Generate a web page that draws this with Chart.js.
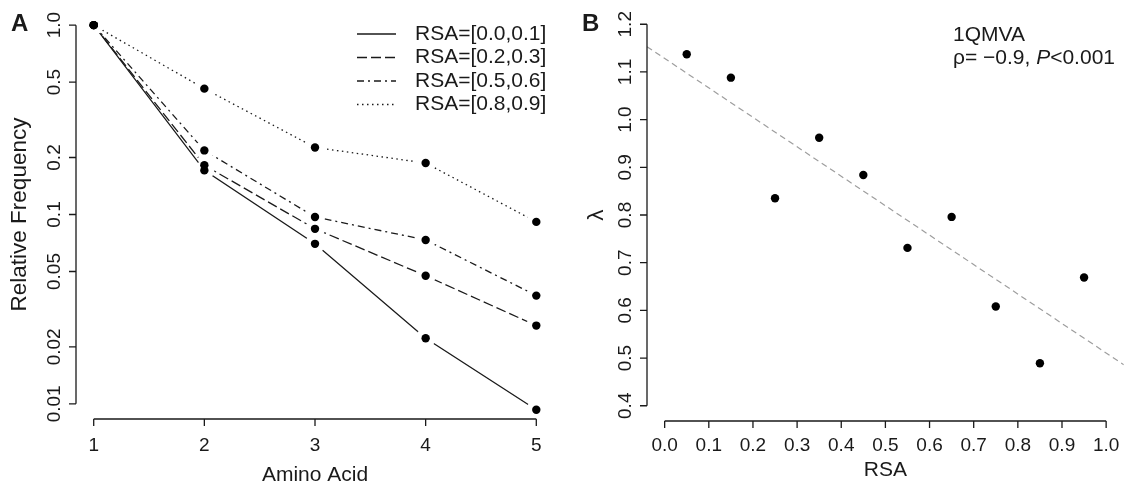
<!DOCTYPE html>
<html>
<head>
<meta charset="utf-8">
<script src="https://cdn.jsdelivr.net/npm/chart.js@4.4.1/dist/chart.umd.min.js"></script>
<style>
  html, body { margin: 0; padding: 0; background: #fff; }
  #wrap { position: relative; width: 1128px; height: 487px; }
  canvas { position: absolute; top: 0; }
  #cA { left: 0; }
  #cB { left: 564px; }
</style>
</head>
<body>
<div id="wrap">
  <canvas id="cA" width="564" height="487"></canvas>
  <canvas id="cB" width="564" height="487"></canvas>
</div>
<script>
// ---------- Panel A data ----------
const aminoAcid = [1, 2, 3, 4, 5];
const seriesNames = ['RSA=[0.0,0.1]', 'RSA=[0.2,0.3]', 'RSA=[0.5,0.6]', 'RSA=[0.8,0.9]'];
const freqRSA01 = [1.0, 0.171, 0.070, 0.0222, 0.0093];
const freqRSA23 = [1.0, 0.182, 0.084, 0.0475, 0.0259];
const freqRSA56 = [1.0, 0.218, 0.097, 0.0734, 0.0373];
const freqRSA89 = [1.0, 0.462, 0.226, 0.187, 0.0914];
const aXTicks = [1, 2, 3, 4, 5];
const aXTickLabels = ['1', '2', '3', '4', '5'];
const aYTicks = [0.01, 0.02, 0.05, 0.1, 0.2, 0.5, 1.0];
const aYTickLabels = ['0.01', '0.02', '0.05', '0.1', '0.2', '0.5', '1.0'];

// ---------- Panel B data ----------
const rsaMid = [0.05, 0.15, 0.25, 0.35, 0.45, 0.55, 0.65, 0.75, 0.85, 0.95];
const lambdaVals = [1.137, 1.088, 0.835, 0.962, 0.884, 0.731, 0.796, 0.608, 0.489, 0.669];
const trendX = [-0.04, 1.04];
const trendY = [1.153, 0.486];
const bXTicks = [0.0, 0.1, 0.2, 0.3, 0.4, 0.5, 0.6, 0.7, 0.8, 0.9, 1.0];
const bXTickLabels = ['0.0', '0.1', '0.2', '0.3', '0.4', '0.5', '0.6', '0.7', '0.8', '0.9', '1.0'];
const bYTicks = [0.4, 0.5, 0.6, 0.7, 0.8, 0.9, 1.0, 1.1, 1.2];
const bYTickLabels = ['0.4', '0.5', '0.6', '0.7', '0.8', '0.9', '1.0', '1.1', '1.2'];

const FONT = '"Liberation Sans", Arial, Helvetica, sans-serif';
const INK = '#1a1a1a';

// R-style axes drawn from the chart's own scales
const rAxes = {
  id: 'rAxes',
  afterDraw(chart, args, o) {
    const ctx = chart.ctx, ca = chart.chartArea;
    const xs = chart.scales.x, ys = chart.scales.y;
    ctx.save();
    ctx.strokeStyle = INK; ctx.fillStyle = INK; ctx.lineWidth = 1.3; ctx.setLineDash([]);
    const tl = 7;
    // x axis
    const xp = o.xTicks.map(v => xs.getPixelForValue(v));
    const yb = ca.bottom;
    ctx.beginPath();
    ctx.moveTo(xp[0], yb); ctx.lineTo(xp[xp.length - 1], yb);
    xp.forEach(p => { ctx.moveTo(p, yb); ctx.lineTo(p, yb + tl); });
    ctx.stroke();
    ctx.font = '19px ' + FONT; ctx.textAlign = 'center'; ctx.textBaseline = 'middle';
    xp.forEach((p, i) => ctx.fillText(o.xLabels[i], p, o.xLabelY));
    // y axis
    const yp = o.yTicks.map(v => ys.getPixelForValue(v));
    const xl = ca.left;
    ctx.beginPath();
    ctx.moveTo(xl, yp[0]); ctx.lineTo(xl, yp[yp.length - 1]);
    yp.forEach(p => { ctx.moveTo(xl, p); ctx.lineTo(xl - tl, p); });
    ctx.stroke();
    yp.forEach((p, i) => {
      ctx.save(); ctx.translate(xl - 21, p); ctx.rotate(-Math.PI / 2);
      ctx.fillText(o.yLabels[i], 0, 0); ctx.restore();
    });
    // titles
    ctx.font = '21px ' + FONT;
    ctx.fillText(o.xTitle, (ca.left + ca.right) / 2, o.xTitleY);
    ctx.font = '22.5px ' + FONT;
    ctx.save(); ctx.translate(o.yTitleX, (ca.top + ca.bottom) / 2); ctx.rotate(-Math.PI / 2);
    ctx.fillText(o.yTitle, 0, 0); ctx.restore();
    // panel letter
    ctx.font = 'bold 24px ' + FONT; ctx.textAlign = 'left'; ctx.textBaseline = 'alphabetic';
    ctx.fillText(o.panel, o.panelX, 31);
    ctx.restore();
  }
};

const legendA = {
  id: 'legendA',
  afterDraw(chart) {
    const ctx = chart.ctx;
    const dashes = chart.data.datasets.slice(0, 4).map(d => d.borderDash);
    ctx.save();
    ctx.strokeStyle = INK; ctx.fillStyle = INK; ctx.lineWidth = 1.3;
    ctx.font = '21px ' + FONT; ctx.textAlign = 'left'; ctx.textBaseline = 'middle';
    seriesNames.forEach((name, i) => {
      const y = 34 + 23.5 * i;
      ctx.setLineDash(dashes[i]);
      ctx.beginPath(); ctx.moveTo(357, y); ctx.lineTo(396, y); ctx.stroke();
      ctx.fillText(name, 415, y);
    });
    ctx.restore();
  }
};

const noteB = {
  id: 'noteB',
  afterDraw(chart) {
    const ctx = chart.ctx;
    ctx.save();
    ctx.fillStyle = INK; ctx.textAlign = 'left'; ctx.textBaseline = 'middle';
    const x0 = 389;
    ctx.font = '21px ' + FONT;
    ctx.fillText('1QMVA', x0, 35);
    let x = x0;
    const part1 = 'ρ= \u22120.9, ';
    ctx.fillText(part1, x, 58); x += ctx.measureText(part1).width;
    ctx.font = 'italic 21px ' + FONT;
    ctx.fillText('P', x, 58); x += ctx.measureText('P').width;
    ctx.font = '21px ' + FONT;
    ctx.fillText('<0.001', x, 58);
    ctx.restore();
  }
};

const toXY = (xs, ys) => xs.map((x, i) => ({ x: x, y: ys[i] }));
const seriesVals = [freqRSA01, freqRSA23, freqRSA56, freqRSA89];
const seriesDash = [[], [10, 4], [7, 4, 2, 4], [1.5, 3.5]];

const lineSets = seriesVals.map((vals, i) => ({
  label: seriesNames[i],
  data: toXY(aminoAcid, vals),
  showLine: true,
  borderColor: INK,
  borderWidth: 1.3,
  borderDash: seriesDash[i],
  pointRadius: 10,
  pointBackgroundColor: '#ffffff',
  pointBorderWidth: 0,
  order: 1
}));
const pointSets = seriesVals.map((vals, i) => ({
  label: seriesNames[i] + ' pts',
  data: toXY(aminoAcid, vals),
  showLine: false,
  pointRadius: 4.2,
  pointBackgroundColor: '#000',
  pointBorderWidth: 0,
  order: 0
}));

const commonOpts = {
  responsive: false,
  animation: false,
  events: [],
  plugins: { legend: { display: false }, tooltip: { enabled: false } }
};

new Chart(document.getElementById('cA'), {
  type: 'scatter',
  data: { datasets: lineSets.concat(pointSets) },
  options: Object.assign({}, commonOpts, {
    layout: { padding: { left: 76, right: 5, top: 8, bottom: 68 } },
    scales: {
      x: { type: 'linear', display: false, bounds: 'data', min: 0.84, max: 5.16 },
      y: { type: 'logarithmic', display: false, bounds: 'data', min: Math.pow(10, -2.08), max: Math.pow(10, 0.08) }
    },
    plugins: Object.assign({}, commonOpts.plugins, {
      rAxes: {
        xTicks: aXTicks, xLabels: aXTickLabels, xLabelY: 446,
        yTicks: aYTicks, yLabels: aYTickLabels,
        xTitle: 'Amino Acid', xTitleY: 475,
        yTitle: 'Relative Frequency', yTitleX: 20,
        panel: 'A', panelX: 11
      }
    })
  }),
  plugins: [rAxes, legendA]
});

new Chart(document.getElementById('cB'), {
  type: 'scatter',
  data: {
    datasets: [
      {
        label: 'trend',
        data: toXY(trendX, trendY),
        showLine: true,
        borderColor: '#9e9e9e',
        borderWidth: 1.2,
        borderDash: [6, 4],
        pointRadius: 0,
        order: 1
      },
      {
        label: 'lambda',
        data: toXY(rsaMid, lambdaVals),
        showLine: false,
        pointRadius: 4.2,
        pointBackgroundColor: '#000',
        pointBorderWidth: 0,
        order: 0
      }
    ]
  },
  options: Object.assign({}, commonOpts, {
    layout: { padding: { left: 83, right: 0, top: 9, bottom: 66 } },
    scales: {
      x: { type: 'linear', display: false, bounds: 'data', min: -0.04, max: 1.04 },
      y: { type: 'linear', display: false, bounds: 'data', min: 0.368, max: 1.232 }
    },
    plugins: Object.assign({}, commonOpts.plugins, {
      rAxes: {
        xTicks: bXTicks, xLabels: bXTickLabels, xLabelY: 446,
        yTicks: bYTicks, yLabels: bYTickLabels,
        xTitle: 'RSA', xTitleY: 470,
        yTitle: 'λ', yTitleX: 33,
        panel: 'B', panelX: 18
      }
    })
  }),
  plugins: [rAxes, noteB]
});
</script>
</body>
</html>
